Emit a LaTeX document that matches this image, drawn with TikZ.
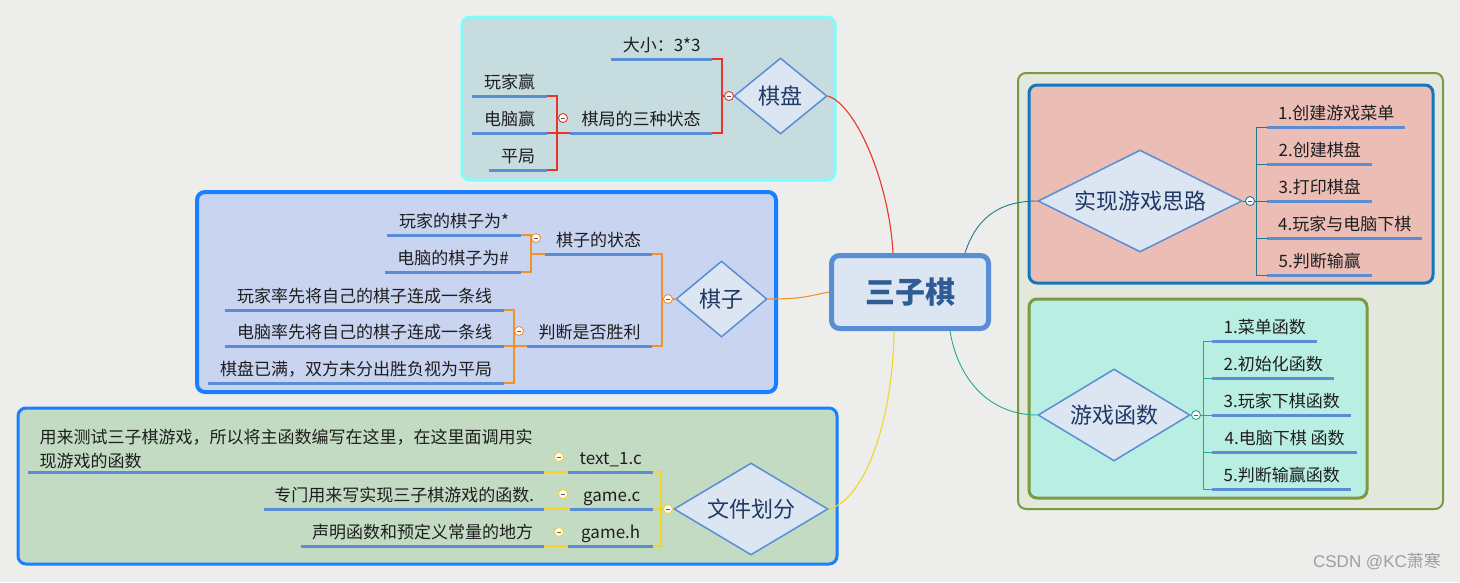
\documentclass[tikz,border=0pt]{standalone}
\usepackage{fontspec}
\setmainfont{Noto Sans CJK SC}
\newfontfamily\wmfont{Liberation Sans}
\usetikzlibrary{shapes.geometric}
\definecolor{bg}{HTML}{EDEEEC}
\definecolor{txt}{HTML}{1E1E1E}
\definecolor{barc}{HTML}{5B8DD6}
\definecolor{diafill}{HTML}{DCE6F3}
\definecolor{diadraw}{HTML}{5A8ED4}
\definecolor{diatext}{HTML}{1F3864}
\definecolor{roottext}{HTML}{2F5C95}
\definecolor{cred}{HTML}{E8342C}
\definecolor{corange}{HTML}{F0922B}
\definecolor{cyellow}{HTML}{F5D327}
\definecolor{cteal}{HTML}{1E7B8E}
\definecolor{cgreen}{HTML}{22A88F}
\definecolor{qpfill}{HTML}{C7DCDF}
\definecolor{qpdraw}{HTML}{7FFCFC}
\definecolor{qzfill}{HTML}{C9D4F1}
\definecolor{bluedraw}{HTML}{1A7FFF}
\definecolor{wjfill}{HTML}{C3DBC3}
\definecolor{outfill}{HTML}{E3E7DC}
\definecolor{olive}{HTML}{7C9A40}
\definecolor{sxfill}{HTML}{EBBDB5}
\definecolor{sxdraw}{HTML}{0F79BF}
\definecolor{yxfill}{HTML}{B9EEE2}
\newcommand{\leaf}[5]{%
  \node[leaf, minimum width=#3pt-#2pt] (#1) at (#2,#4) {#5};
  \draw[bar] (#1.south west) -- (#1.south east);}
\begin{document}
\begin{tikzpicture}[x=1pt,y=-1pt,
  leaf/.style={anchor=south west, inner sep=0pt, minimum height=22pt,
    text height=0.88em, text depth=0.12em,
    font=\fontsize{17}{20}\selectfont, text=txt},
  bar/.style={draw=barc, line width=3pt},
  dia/.style={diamond, draw=diadraw, fill=diafill, line width=1.5pt, inner sep=0pt,
    font=\fontsize{22}{24}\selectfont, text=diatext},
  conn/.style={line width=1.1pt},
  coll/.style={circle, draw=#1, fill=white, line width=0.9pt, minimum size=9pt, inner sep=0pt,
    path picture={\draw[line width=1pt, gray!70!black]
      ([xshift=-2.3pt]path picture bounding box.center) --
      ([xshift=2.3pt]path picture bounding box.center);}},
  grp/.style={rounded corners=8pt}]
\fill[bg] (0,0) rectangle (1460,582);
\useasboundingbox (0,0) rectangle (1460,582);

% ---------- group boxes ----------
\draw[grp, fill=qpfill, draw=qpdraw, line width=3pt] (462,17) rectangle (835,180);
\draw[grp, fill=qzfill, draw=bluedraw, line width=4pt] (197,192) rectangle (776,392);
\draw[grp, fill=wjfill, draw=bluedraw, line width=3pt] (18,408) rectangle (837,564);
\draw[grp, fill=outfill, draw=olive, line width=2pt] (1018,73) rectangle (1443,509);
\draw[grp, fill=sxfill, draw=sxdraw, line width=3pt] (1029,85) rectangle (1433,283);
\draw[grp, fill=yxfill, draw=olive, line width=3pt] (1029,299) rectangle (1367,498);

% ---------- root ----------
\node[draw=diadraw, fill=diafill, line width=5pt, rounded corners=8pt,
  minimum width=157pt, minimum height=73pt, inner sep=0pt,
  font=\fontsize{30}{32}\selectfont\bfseries, text=roottext] (root) at (910,292) {三子棋};

% ---------- 棋盘 ----------
\node[dia, aspect=1.22, minimum width=93pt, minimum height=76pt] (qipan) at (780.5,96) {棋盘};
\leaf{daxiao}{611}{712}{59}{大小：3*3}
\leaf{jubu}{570}{712}{133}{棋局的三种状态}
\leaf{wjy}{472}{547}{96}{玩家赢}
\leaf{dny}{472}{547}{133}{电脑赢}
\leaf{pj}{489}{547}{170}{平局}
\coordinate (qj1) at (722,96);
\coordinate (qj2) at (557,133);
\draw[conn, cred] (daxiao.south east) -| (qj1) |- (jubu.south east);
\draw[conn, cred] (qj1) -- (qipan.west);
\draw[conn, cred] (wjy.south east) -| (qj2) |- (pj.south east);
\draw[conn, cred] (dny.south east) -- (jubu.south west);
\node[coll=cred] (cq1) at (729,96) {};
\node[coll=cred] (cq2) at (563,118) {};

% ---------- 棋子 ----------
\node[dia, aspect=1.2, minimum width=91pt, minimum height=76pt] (qizi) at (721.5,299) {棋子};
\leaf{wjqz}{387}{521}{235}{玩家的棋子为*}
\leaf{dnqz}{385}{521}{272}{电脑的棋子为\#}
\leaf{zt}{545}{652}{254}{棋子的状态}
\leaf{wjlx}{225}{504}{310}{玩家率先将自己的棋子连成一条线}
\leaf{dnlx}{225}{504}{346}{电脑率先将自己的棋子连成一条线}
\leaf{qpym}{208}{504}{383}{棋盘已满，双方未分出胜负视为平局}
\leaf{pd}{527}{652}{346}{判断是否胜利}
\coordinate (zj1) at (531,254);
\coordinate (zj2) at (514,346);
\coordinate (zj3) at (662,299);
\draw[conn, corange] (wjqz.south east) -| (zj1) |- (dnqz.south east);
\draw[conn, corange] (zj1) -- (zt.south west);
\draw[conn, corange] (wjlx.south east) -| (zj2) |- (qpym.south east);
\draw[conn, corange] (dnlx.south east) -- (pd.south west);
\draw[conn, corange] (zt.south east) -| (zj3) |- (pd.south east);
\draw[conn, corange] (zj3) -- (qizi.west);
\node[coll=corange] (cz1) at (536,238) {};
\node[coll=corange] (cz2) at (519,331) {};
\node[coll=corange] (cz3) at (668,299) {};

% ---------- 文件划分 ----------
\node[dia, aspect=1.67, minimum width=154pt, minimum height=92pt] (wjhf) at (751,509) {文件划分};
\leaf{t1}{568}{653}{472}{text\_1.c}
\leaf{gc}{570}{653}{509}{game.c}
\leaf{gh}{568}{653}{546}{game.h}
\node[anchor=south west, inner xsep=0pt, inner ysep=3.5pt, minimum width=516pt,
  align=left, text depth=0.12em, font=\fontsize{17}{23.5}\selectfont, text=txt] (t1d) at (28,472)
  {用来测试三子棋游戏，所以将主函数编写在这里，在这里面调用实\\现游戏的函数};
\draw[bar] (t1d.south west) -- (t1d.south east);
\leaf{gcd}{264}{544}{509}{专门用来写实现三子棋游戏的函数.}
\leaf{ghd}{301}{544}{546}{声明函数和预定义常量的地方}
\coordinate (fj) at (661,509);
\draw[conn, cyellow] (t1d.south east) -- (t1.south west);
\draw[conn, cyellow] (gcd.south east) -- (gc.south west);
\draw[conn, cyellow] (ghd.south east) -- (gh.south west);
\draw[conn, cyellow] (t1.south east) -| (fj) |- (gh.south east);
\draw[conn, cyellow] (gc.south east) -- (wjhf.west);
\node[coll=cyellow] (cf1) at (559,457) {};
\node[coll=cyellow] (cf2) at (563,494) {};
\node[coll=cyellow] (cf3) at (559,532) {};
\node[coll=cyellow] (cf4) at (668,509) {};

% ---------- 实现游戏思路 ----------
\node[dia, aspect=2, minimum width=204pt, minimum height=102pt] (sx) at (1140,201) {实现游戏思路};
\leaf{s1}{1267}{1405}{127}{1.创建游戏菜单}
\leaf{s2}{1267}{1372}{164}{2.创建棋盘}
\leaf{s3}{1267}{1372}{201}{3.打印棋盘}
\leaf{s4}{1267}{1422}{238}{4.玩家与电脑下棋}
\leaf{s5}{1267}{1372}{275}{5.判断输赢}
\coordinate (sj) at (1256,201);
\draw[conn, cteal, line width=0.9pt] (s1.south west) -| (sj) |- (s5.south west);
\draw[conn, cteal, line width=0.9pt] (s2.south west) -| (sj);
\draw[conn, cteal, line width=0.9pt] (s4.south west) -| (sj);
\draw[conn, cteal, line width=0.9pt] (sx.east) -- (s3.south west);
\node[coll=cteal] (cs) at (1250,201) {};

% ---------- 游戏函数 ----------
\node[dia, aspect=1.65, minimum width=152pt, minimum height=92pt] (yx) at (1114,415) {游戏函数};
\leaf{y1}{1212}{1317}{341}{1.菜单函数}
\leaf{y2}{1212}{1334}{378}{2.初始化函数}
\leaf{y3}{1212}{1351}{415}{3.玩家下棋函数}
\leaf{y4}{1212}{1357}{452}{4.电脑下棋 函数}
\leaf{y5}{1212}{1351}{489}{5.判断输赢函数}
\coordinate (yj) at (1203,415);
\draw[conn, cgreen, line width=0.9pt] (y1.south west) -| (yj) |- (y5.south west);
\draw[conn, cgreen, line width=0.9pt] (y2.south west) -| (yj);
\draw[conn, cgreen, line width=0.9pt] (y4.south west) -| (yj);
\draw[conn, cgreen, line width=0.9pt] (yx.east) -- (y3.south west);
\node[coll=cgreen] (cy) at (1196,415) {};

% ---------- root connectors ----------
\draw[conn, cred] (qipan.east) .. controls (855,104) and (889,180) .. ([xshift=-17pt]root.north);
\draw[conn, corange] (qizi.east) .. controls (800,299) and (805,297) .. (root.west);
\draw[conn, cyellow] ([xshift=-16pt]root.south) .. controls (893,420) and (865,500) .. (wjhf.east);
\draw[conn, cteal, line width=0.9pt] ([xshift=55pt]root.north) .. controls (975,222) and (995,201) .. (sx.west);
\draw[conn, cgreen, line width=0.9pt] ([xshift=40pt]root.south) .. controls (958,380) and (990,415) .. (yx.west);

% watermark
\node[font=\fontsize{17}{19}\selectfont, text=black!38] (wm) at (1377,561) {\wmfont CSDN @KC\rmfamily 萧寒};
\end{tikzpicture}
\end{document}
